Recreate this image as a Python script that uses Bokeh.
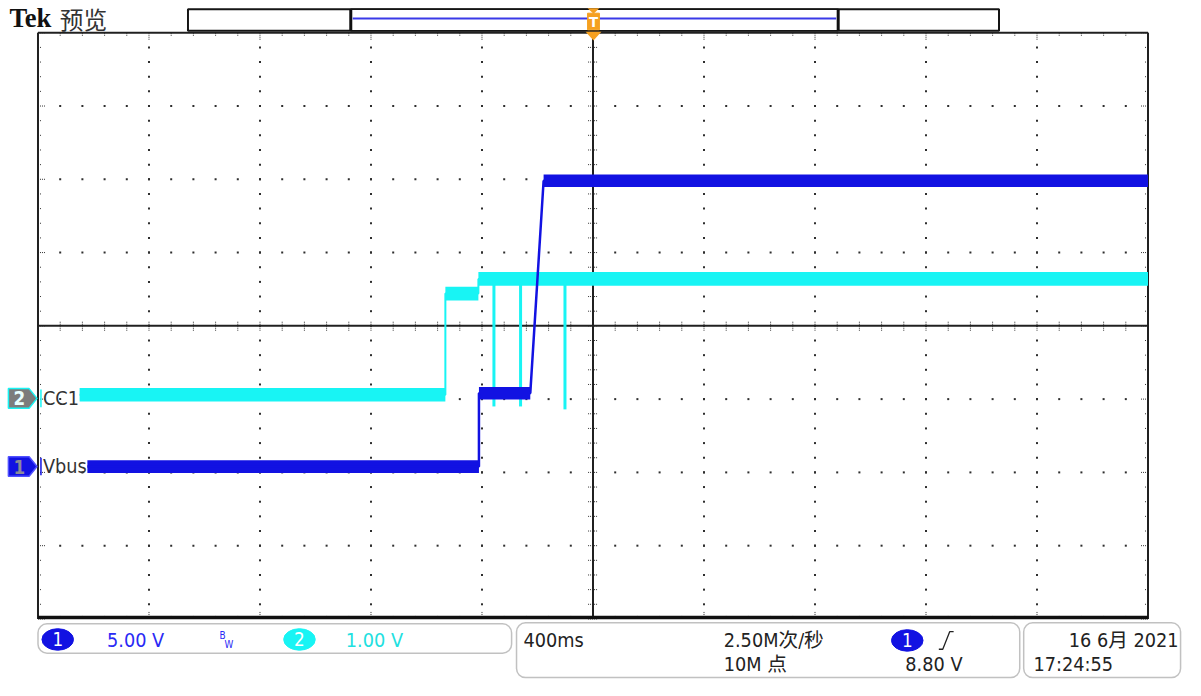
import numpy as np
from bokeh.plotting import figure
from bokeh.models import Range1d, BoxAnnotation
from bokeh.embed import file_html
from bokeh.resources import INLINE
from bokeh.core.properties import value

# ---------------- scope settings ----------------
ms_per_div = 400.0
ch1_v_per_div = 5.0
ch2_v_per_div = 1.0
ch1_pos_div = -1.92
ch2_pos_div = -0.99

# ---------------- CH1 : Vbus (volts vs ms) ----------------
vbus_t = [-1822, -411, -411, -226, -178, 2000]
vbus_v = [0.0, 0.0, 5.0, 5.0, 19.5, 19.5]
vbus_flat_from = [-1822, -411, -178]
vbus_flat_to = [-411, -226, 2000]
vbus_flat_level = [0.0, 5.0, 19.5]

# ---------------- CH2 : CC1 (volts vs ms) ----------------
cc1_t = [-1850, -532, -532, -413, -413, 2000]
cc1_v = [0.05, 0.05, 1.43, 1.43, 1.63, 1.63]
cc1_flat_from = [-1850, -532, -413]
cc1_flat_to = [-532, -413, 2000]
cc1_flat_level = [0.05, 1.43, 1.63]
cc1_glitch_t = [-357, -261, -101]
cc1_glitch_low = [-0.11, -0.11, -0.15]

# ---------------- colours / fonts ----------------
BLUE = "#1212E2"
CYAN = "#18F4F4"
TXT_BLUE = "#2a2af5"
TXT_CYAN = "#22e0e0"
FONT = value("Liberation Sans Narrow, DejaVu Sans Condensed, Roboto, Noto Sans CJK SC")
CJK = value("Noto Sans CJK SC")

# ---------------- canvas geometry ----------------
# the canvas shows the full 1201x696 scope screen
W, H = 1185, 680
REF_W, REF_H = 1201.0, 696.0
PX_X = 112.5           # screen pixels per horizontal division
PX_Y = 75.0            # screen pixels per vertical division
CX, CY = 600.5, 333.0  # screen pixel of the graticule centre
ms_px = ms_per_div / PX_X
S = W / REF_W          # font / line scale


def X(px):
    return (px - CX) * ms_px


def Y(py):
    return (CY - py) / PX_Y


def fs(n):
    return "%.1fpx" % (n * S)


p = figure(width=W, height=H, x_range=Range1d(X(0), X(REF_W)),
           y_range=Range1d(Y(REF_H), Y(0)), output_backend="svg",
           toolbar_location=None, x_axis_location=None, y_axis_location=None,
           min_border=0)
p.grid.visible = False
p.outline_line_color = None
p.background_fill_color = "white"
p.border_fill_color = "white"

y_top, y_bot = Y(0), Y(REF_H)
p.extra_y_ranges = {
    "ch1": Range1d((y_bot - ch1_pos_div) * ch1_v_per_div, (y_top - ch1_pos_div) * ch1_v_per_div),
    "ch2": Range1d((y_bot - ch2_pos_div) * ch2_v_per_div, (y_top - ch2_pos_div) * ch2_v_per_div),
}

XL, XR = -5 * ms_per_div, 5 * ms_per_div

# ---------------- graticule ----------------
minor_x = np.arange(-25, 26) * ms_per_div / 5
minor_y = np.arange(-20, 21) / 5.0
dot_x, dot_y = [], []
for k in range(-4, 5):
    if k == 0:
        continue
    for yy in minor_y[1:-1]:
        dot_x.append(k * ms_per_div)
        dot_y.append(yy)
for k in range(-3, 4):
    if k == 0:
        continue
    for xx in minor_x[1:-1]:
        dot_x.append(xx)
        dot_y.append(k)
p.scatter(dot_x, dot_y, marker="square", size=2, fill_color="#2e2e2e",
          line_color=None)

tx0, ty0, tx1, ty1 = [], [], [], []
for i, xx in enumerate(minor_x):
    L = 8 if i % 5 == 0 else 4
    tx0.append(xx); ty0.append(4); tx1.append(xx); ty1.append(4 - L / PX_Y)
    tx0.append(xx); ty0.append(-4); tx1.append(xx); ty1.append(-4 + L / PX_Y)
    tx0.append(xx); ty0.append(-5 / PX_Y); tx1.append(xx); ty1.append(5 / PX_Y)
for i, yy in enumerate(minor_y):
    L = 8 if i % 5 == 0 else 4
    tx0.append(XL); ty0.append(yy); tx1.append(XL + L * ms_px); ty1.append(yy)
    tx0.append(XR); ty0.append(yy); tx1.append(XR - L * ms_px); ty1.append(yy)
    tx0.append(-5 * ms_px); ty0.append(yy); tx1.append(5 * ms_px); ty1.append(yy)
p.segment(tx0, ty0, tx1, ty1, line_color="#333333", line_width=1, line_dash="1 1")

p.segment([XL, 0], [0, -4], [XR, 0], [0, 4], line_color="#202020", line_width=2)
p.segment([XL, XR, XL], [-4, -4, 4], [XL, XR, XR], [4, 4, 4],
          line_color="#202020", line_width=2)
p.segment([XL], [-4 + 1.5 / PX_Y], [XR], [-4 + 1.5 / PX_Y], line_color="#101010", line_width=3.5)

# ---------------- traces ----------------
hw2 = 7 / PX_Y * ch2_v_per_div
lv2 = np.array(cc1_flat_level)
p.quad(left=cc1_flat_from, right=cc1_flat_to, bottom=lv2 - hw2, top=lv2 + hw2,
       fill_color=CYAN, line_color=None, y_range_name="ch2")
p.line(cc1_t, cc1_v, line_color=CYAN, line_width=2, y_range_name="ch2")
p.segment(x0=cc1_glitch_t, y0=[cc1_flat_level[2]] * len(cc1_glitch_t),
          x1=cc1_glitch_t, y1=cc1_glitch_low, line_color=CYAN, line_width=3,
          y_range_name="ch2")

hw1 = 6.5 / PX_Y * ch1_v_per_div
lv1 = np.array(vbus_flat_level)
p.quad(left=vbus_flat_from, right=vbus_flat_to, bottom=lv1 - hw1, top=lv1 + hw1,
       fill_color=BLUE, line_color=None, y_range_name="ch1")
p.line(vbus_t, vbus_v, line_color=BLUE, line_width=2.5, y_range_name="ch1")

# ---------------- channel markers and labels ----------------
for pos, fill, edge, num, numcol, label, ind in [
        (ch2_pos_div, "#7c7c7c", CYAN, "2", "#e8ffff", "CC1", CYAN),
        (ch1_pos_div, BLUE, "#5050ff", "1", "#8a8a9a", "Vbus", BLUE)]:
    h = 10 / PX_Y
    p.patch([X(8), X(29), X(37), X(29), X(8)],
            [pos + h, pos + h, pos, pos - h, pos - h],
            fill_color=fill, line_color=edge, line_width=1.5)
    p.text([X(19)], [pos], text=[num], text_color=numcol, text_font=FONT,
           text_font_size=fs(19), text_font_style="bold", text_align="center",
           text_baseline="middle")
    p.segment([X(41)], [pos - 9 / PX_Y], [X(41)], [pos + 9 / PX_Y],
              line_color=ind, line_width=1.5)
    p.text([X(43)], [pos], text=[label], text_color="#333333", text_font=FONT,
           text_font_size=fs(20), text_align="left", text_baseline="middle")

# ---------------- top bar ----------------
p.text([X(9)], [Y(18)], text=["Tek"], text_color="#111111",
       text_font=value("Liberation Serif"), text_font_size=fs(27),
       text_font_style="bold", text_align="left", text_baseline="middle")
p.text([X(60)], [Y(19)], text=["预览"], text_color="#333333", text_font=CJK,
       text_font_size=fs(24), text_align="left", text_baseline="middle")
p.quad(left=[X(190)], right=[X(1012)], top=[Y(9)], bottom=[Y(31)],
       fill_color="white", line_color="#151515", line_width=2)
p.quad(left=[X(355)], right=[X(849)], top=[Y(9)], bottom=[Y(31)],
       fill_color="white", line_color="#151515", line_width=1.5)
p.segment([X(355), X(849)], [Y(9), Y(9)], [X(355), X(849)], [Y(31), Y(31)],
          line_color="#101010", line_width=3)
p.segment([X(357)], [Y(18.5)], [X(847)], [Y(18.5)], line_color="#3a3ae8", line_width=2)
ORANGE = "#F5A020"
p.patch([X(595), X(607), X(601)], [Y(8), Y(8), Y(13.5)], fill_color=ORANGE, line_color=None)
p.quad(left=[X(595)], right=[X(607)], top=[Y(13)], bottom=[Y(30)],
       fill_color=ORANGE, line_color=ORANGE)
p.text([X(601)], [Y(21.5)], text=["T"], text_color="white", text_font=FONT,
       text_font_size=fs(15), text_font_style="bold", text_align="center",
       text_baseline="middle")
p.patch([X(593), X(609), X(601)], [Y(32), Y(32), Y(41)], fill_color=ORANGE,
        line_color=None)

# ---------------- status boxes ----------------
for l, r, t, b in [(38, 518, 638, 668), (523, 1033, 637, 693), (1037, 1196, 637, 693)]:
    p.add_layout(BoxAnnotation(left=X(l), right=X(r), top=Y(t), bottom=Y(b),
                               fill_alpha=0, line_color="#333333", line_width=1.5,
                               border_radius=9))

badges = [(58, 654, BLUE, "1"), (303, 654, CYAN, "2"), (919, 655, BLUE, "1")]
for bx, by, col, num in badges:
    p.ellipse([X(bx)], [Y(by)], width=32 * ms_px, height=22 / PX_Y,
              fill_color=col, line_color=col)
    p.text([X(bx)], [Y(by)], text=[num], text_color="white", text_font=FONT,
           text_font_size=fs(19), text_align="center", text_baseline="middle")

texts = [
    (108, 655, "5.00 V", TXT_BLUE, "left"),
    (350, 655, "1.00 V", TXT_CYAN, "left"),
    (530, 655, "400ms", "#222222", "left"),
    (733, 655, "2.50M次/秒", "#222222", "left"),
    (733, 680, "10M 点", "#222222", "left"),
    (975, 680, "8.80 V", "#222222", "right"),
    (1194, 655, "16 6月 2021", "#222222", "right"),
    (1047, 680, "17:24:55", "#222222", "left"),
]
for tx, ty, s, c, al in texts:
    p.text([X(tx)], [Y(ty)], text=[s], text_color=c, text_font=FONT,
           text_font_size=fs(20), text_align=al, text_baseline="middle")

p.text([X(222)], [Y(650)], text=["B"], text_color=TXT_BLUE, text_font=FONT,
       text_font_size=fs(10), text_align="left", text_baseline="middle")
p.text([X(227)], [Y(659)], text=["W"], text_color=TXT_BLUE, text_font=FONT,
       text_font_size=fs(10), text_align="left", text_baseline="middle")

p.line([X(951), X(955), X(962), X(966)], [Y(664), Y(664), Y(646), Y(646)],
       line_color="#222222", line_width=1.3)

open("out.html", "w").write(file_html(p, INLINE))
